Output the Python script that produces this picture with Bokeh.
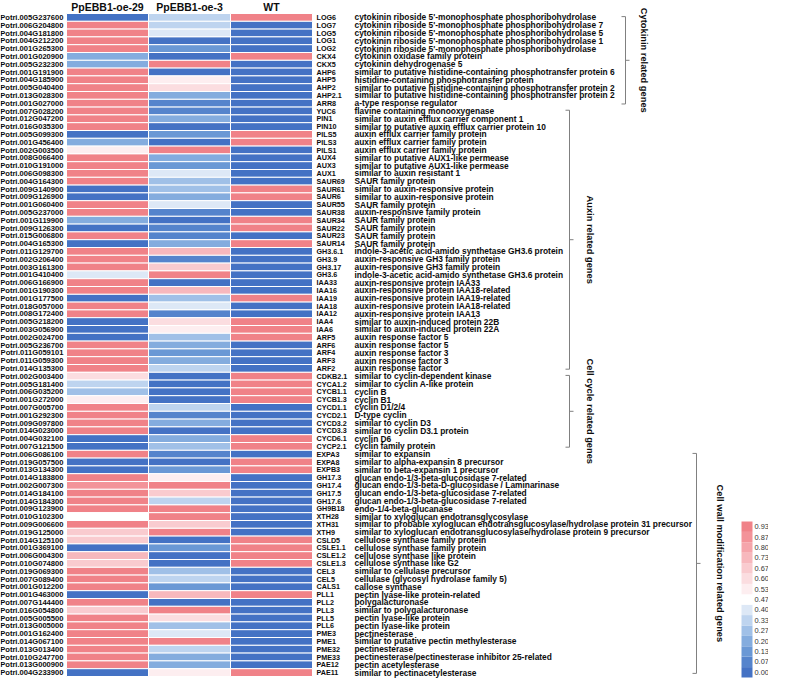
import math
from bokeh.plotting import figure
from bokeh.models import ColumnDataSource, Range1d, LinearColorMapper
from bokeh.transform import transform
from bokeh.core.properties import value
from bokeh.embed import file_html
from bokeh.resources import INLINE

# ---------------- data ----------------
samples = ["PpEBB1-oe-29", "PpEBB1-oe-3", "WT"]

gene_ids = [
    "Potri.005G237600", "Potri.006G204800", "Potri.004G181800", "Potri.004G212200",
    "Potri.001G265300", "Potri.001G020900", "Potri.005G232300", "Potri.001G191900",
    "Potri.004G185900", "Potri.005G040400", "Potri.013G028300", "Potri.001G027000",
    "Potri.007G028200", "Potri.012G047200", "Potri.016G035300", "Potri.005G099300",
    "Potri.001G456400", "Potri.002G003500", "Potri.008G066400", "Potri.010G191000",
    "Potri.006G098300", "Potri.004G164300", "Potri.009G140900", "Potri.009G126900",
    "Potri.001G060400", "Potri.005G237000", "Potri.001G119900", "Potri.009G126300",
    "Potri.015G006800", "Potri.004G165300", "Potri.011G129700", "Potri.002G206400",
    "Potri.003G161300", "Potri.001G410400", "Potri.006G166900", "Potri.001G190300",
    "Potri.001G177500", "Potri.018G057000", "Potri.008G172400", "Potri.005G218200",
    "Potri.003G056900", "Potri.002G024700", "Potri.005G236700", "Potri.011G059101",
    "Potri.011G059300", "Potri.014G135300", "Potri.002G003400", "Potri.005G181400",
    "Potri.006G035200", "Potri.001G272000", "Potri.007G005700", "Potri.001G292300",
    "Potri.009G097800", "Potri.014G023000", "Potri.004G032100", "Potri.007G121500",
    "Potri.006G086100", "Potri.019G057500", "Potri.013G134300", "Potri.014G183800",
    "Potri.002G007300", "Potri.014G184100", "Potri.014G184300", "Potri.009G123900",
    "Potri.010G102300", "Potri.009G006600", "Potri.019G125000", "Potri.014G125100",
    "Potri.001G369100", "Potri.006G004300", "Potri.010G074800", "Potri.019G069300",
    "Potri.007G089400", "Potri.001G012200", "Potri.001G463000", "Potri.007G144400",
    "Potri.016G054800", "Potri.005G005500", "Potri.013G005000", "Potri.001G162400",
    "Potri.014G067100", "Potri.013G013400", "Potri.010G247700", "Potri.013G000900",
    "Potri.004G233900",
]

gene_names = [
    "LOG6", "LOG7", "LOG5", "LOG1", "LOG2", "CKX4", "CKX5", "AHP6", "AHP5", "AHP2",
    "AHP2.1", "ARR8", "YUC6", "PIN1", "PIN10", "PILS5", "PILS3", "PILS1", "AUX4", "AUX3",
    "AUX1", "SAUR69", "SAUR61", "SAUR6", "SAUR55", "SAUR38", "SAUR34", "SAUR22", "SAUR23",
    "SAUR14", "GH3.6.1", "GH3.9", "GH3.17", "GH3.6", "IAA33", "IAA16", "IAA19", "IAA18",
    "IAA12", "IAA4", "IAA6", "ARF5", "ARF6", "ARF4", "ARF3", "ARF2", "CDKB2.1", "CYCA1.2",
    "CYCB1.1", "CYCB1.3", "CYCD1.1", "CYCD2.1", "CYCD3.2", "CYCD3.3", "CYCD6.1", "CYCP2.1",
    "EXPA3", "EXPA8", "EXPB3", "GH17.3", "GH17.4", "GH17.5", "GH17.6", "GH9B18", "XTH28",
    "XTH31", "XTH9", "CSLD5", "CSLE1.1", "CSLE1.2", "CSLE1.3", "CEL3", "CEL5", "CALS1",
    "PLL1", "PLL2", "PLL3", "PLL5", "PLL6", "PME3", "PME1", "PME32", "PME33", "PAE12", "PAE11",
]

descriptions = [
    "cytokinin riboside 5'-monophosphate phosphoribohydrolase",
    "cytokinin riboside 5'-monophosphate phosphoribohydrolase 7",
    "cytokinin riboside 5'-monophosphate phosphoribohydrolase 5",
    "cytokinin riboside 5'-monophosphate phosphoribohydrolase 1",
    "cytokinin riboside 5'-monophosphate phosphoribohydrolase",
    "cytokinin oxidase family protein",
    "cytokinin dehydrogenase 5",
    "similar to putative histidine-containing phosphotransfer protein 6",
    "histidine-containing phosphotransfer protein",
    "similar to putative histidine-containing phosphotransfer protein 2",
    "similar to putative histidine-containing phosphotransfer protein 2",
    "a-type response regulator",
    "flavine containing monooxygenase",
    "similar to auxin efflux carrier component 1",
    "similar to putative auxin efflux carrier protein 10",
    "auxin efflux carrier family protein",
    "auxin efflux carrier family protein",
    "auxin efflux carrier family protein",
    "similar to putative AUX1-like permease",
    "similar to putative AUX1-like permease",
    "similar to auxin resistant 1",
    "SAUR family protein",
    "similar to auxin-responsive protein",
    "similar to auxin-responsive protein",
    "SAUR family protein",
    "auxin-responsive family protein",
    "SAUR family protein",
    "SAUR family protein",
    "SAUR family protein",
    "SAUR family protein",
    "indole-3-acetic acid-amido synthetase GH3.6 protein",
    "auxin-responsive GH3 family protein",
    "auxin-responsive GH3 family protein",
    "indole-3-acetic acid-amido synthetase GH3.6 protein",
    "auxin-responsive protein IAA33",
    "auxin-responsive protein IAA18-related",
    "auxin-responsive protein IAA19-related",
    "auxin-responsive protein IAA18-related",
    "auxin-responsive protein IAA13",
    "similar to auxin-induced protein 22B",
    "similar to auxin-induced protein 22A",
    "auxin response factor 5",
    "auxin response factor 5",
    "auxin response factor 3",
    "auxin response factor 3",
    "auxin response factor",
    "similar to cyclin-dependent kinase",
    "similar to cyclin A-like protein",
    "cyclin B",
    "cyclin B1",
    "cyclin D1/2/4",
    "D-type cyclin",
    "similar to cyclin D3",
    "similar to cyclin D3.1 protein",
    "cyclin D6",
    "cyclin family protein",
    "similar to expansin",
    "similar to alpha-expansin 8 precursor",
    "similar to beta-expansin 1 precursor",
    "glucan endo-1/3-beta-glucosidase 7-related",
    "glucan endo-1/3-beta-D-glucosidase / Laminarinase",
    "glucan endo-1/3-beta-glucosidase 7-related",
    "glucan endo-1/3-beta-glucosidase 7-related",
    "endo-1/4-beta-glucanase",
    "similar to xyloglucan endotransglycosylase",
    "similar to probable xyloglucan endotransglucosylase/hydrolase protein 31 precursor",
    "similar to xyloglucan endotransglucosylase/hydrolase protein 9 precursor",
    "cellulose synthase family protein",
    "cellulose synthase family protein",
    "cellulose synthase like protein",
    "cellulose synthase like G2",
    "similar to cellulase precursor",
    "cellulase (glycosyl hydrolase family 5)",
    "callose synthase",
    "pectin lyase-like protein-related",
    "polygalacturonase",
    "similar to polygalacturonase",
    "pectin lyase-like protein",
    "pectin lyase-like protein",
    "pectinesterase",
    "similar to putative pectin methylesterase",
    "pectinesterase",
    "pectinesterase/pectinesterase inhibitor 25-related",
    "pectin acetylesterase",
    "similar to pectinacetylesterase",
]

oe29 = [0.0, 1, 1, 1, 1, 0.23, 0.23, 1, 1, 1, 1, 1,
        1, 1, 1, 0.0, 0.23, 0.57, 1, 1, 1, 1, 0.0, 0.0, 1, 1, 0.23, 0.0, 1, 0.0,
        1, 1, 1, 0.43, 1, 1, 0.0, 1, 1, 0.0, 0.0, 0.0, 1, 1, 1, 1,
        0.63, 0.37, 0.33, 0.55, 1, 1, 1, 1, 0.0, 0.0,
        1, 0.0, 0.0, 1, 0.9, 1, 1, 1, 0.5, 1, 0.7, 0.7, 0.0, 0.77, 0.7, 1, 1, 1,
        0.0, 1, 0.7, 1, 1, 1, 1, 1, 1, 1, 0.0]

oe3 = [0.37, 0.37, 0.43, 0.02, 0.17, 0.02, 1, 0.02, 0.57, 0.6, 0.23, 0.1,
       0.1, 0.23, 0.03, 0.17, 0.03, 1, 0.23, 0.17, 0.43, 0.3, 0.33, 0.23, 0.43, 0.1, 0.05, 0.07, 0.1, 0.23,
       0.77, 0.1, 0.7, 1, 0.03, 0.77, 0.3, 0.43, 0.1, 0.6, 0.55, 0.3, 0.23, 0.17, 0.23, 0.37,
       0.0, 0.0, 0.0, 0.0, 0.37, 0.1, 0.23, 0.03, 0.23, 0.33,
       0.1, 0.05, 0.17, 0.55, 1, 0.7, 0.37, 1, 1, 0.7, 1, 0.0, 0.17, 0.0, 0.0, 0.33, 0.37, 0.17,
       0.77, 0.03, 1, 0.6, 0.33, 0.43, 1, 0.37, 0.23, 0.23, 0.55]

wt = [1, 0.0, 0.0, 0.0, 0.0, 1, 0.0, 0.0, 0.0, 0.0, 0.0, 0.0,
      0.0, 0.0, 0.0, 1, 1, 0.0, 0.0, 0.0, 0.0, 0.0, 1, 1, 0.0, 0.0, 1, 1, 0.0, 1,
      0.0, 0.0, 0.0, 0.0, 0.0, 0.0, 1, 0.0, 0.0, 1, 1, 1, 0.0, 0.0, 0.0, 0.0,
      1, 1, 1, 1, 0.0, 0.0, 0.0, 0.0, 1, 1,
      0.0, 1, 1, 0.0, 0.0, 0.0, 0.0, 0.0, 0.0, 0.0, 0.0, 1, 1, 1, 1, 0.0, 0.0, 0.0,
      1, 0.0, 0.0, 0.0, 0.0, 0.0, 0.0, 0.0, 0.0, 0.0, 1]

group_names = ["Cytokinin related genes", "Auxin related genes",
               "Cell cycle related genes", "Cell wall modification related genes"]
group_first = [0, 12, 46, 56]
group_last = [11, 45, 55, 84]

palette = ["#4472c4", "#5584cc", "#6a98d5", "#84acde", "#a0c0e7", "#bed4ef", "#dde8f6",
           "#ffffff",
           "#fdeef0", "#fbdde0", "#f9cbcf", "#f7b8bd", "#f5a5ab", "#f39399", "#f08288"]
colorbar_labels = ["0.00", "0.07", "0.13", "0.20", "0.27", "0.33", "0.40", "0.47",
                   "0.53", "0.60", "0.67", "0.73", "0.80", "0.87", "0.93"]

# ---------------- layout (pixels) ----------------
W, H = 768, 678
PAGE_L, PAGE_T = 8, 8
X0, PX = 74, 82.0      # heatmap left edge, px per column
TOP, ROW = 21, 7.8     # first row top, px per row
n = len(gene_ids)

def px2x(px):
    return (px - X0) / PX

def py2y(py):
    return (n - 0.5) - (py - TOP) / ROW

p = figure(width=W, height=H, output_backend="svg", toolbar_location=None,
           x_range=Range1d(px2x(PAGE_L), px2x(PAGE_L + W)),
           y_range=Range1d(py2y(PAGE_T + H), py2y(PAGE_T)),
           x_axis_location=None, y_axis_location=None, min_border=0)
p.grid.visible = False
p.outline_line_color = None
p.background_fill_color = "white"

FONT = value("Liberation Sans")
TXT = "#0d0d0d"

# heatmap cells
cx, cy, cv = [], [], []
for j, col in enumerate([oe29, oe3, wt]):
    for i, v in enumerate(col):
        cx.append(j + 0.5)
        cy.append(n - 1 - i)
        cv.append(v)
mapper = LinearColorMapper(palette=palette, low=0, high=1)
src = ColumnDataSource(dict(x=cx, y=cy, v=cv))
p.rect(x="x", y="y", width=1, height=1, source=src,
       fill_color=transform("v", mapper), line_color="white", line_width=1)

rows_y = [n - 1 - i for i in range(n)]

# column headers
p.text(x=[j + 0.5 for j in range(len(samples))], y=[py2y(14.5)] * len(samples), text=samples,
       text_align="center", text_baseline="middle", text_font=FONT,
       text_font_style="bold", text_font_size="10.5px", text_color=TXT)

# gene ids (left)
p.text(x=[px2x(71)] * n, y=rows_y, text=gene_ids, text_align="right",
       text_baseline="middle", text_font=FONT, text_font_style="bold",
       text_font_size="7.6px", text_color=TXT)

# gene names
p.text(x=[px2x(324)] * n, y=rows_y, text=gene_names, text_align="left",
       text_baseline="middle", text_font=FONT, text_font_style="bold",
       text_font_size="7.2px", text_color=TXT)

# descriptions
p.text(x=[px2x(362)] * n, y=rows_y, text=descriptions, text_align="left",
       text_baseline="middle", text_font=FONT, text_font_style="bold",
       text_font_size="8.4px", text_color=TXT)

# brackets
bracket_px = [633, 577, 577, 704]
label_px = [651, 597, 597, 727]
d = 4 / PX
xs, ys, lx, ly = [], [], [], []
for g in range(len(group_names)):
    yt = (n - 1 - group_first[g]) + 0.5 - 0.4
    yb = (n - 1 - group_last[g]) - 0.5 + 0.4
    ym = (yt + yb) / 2
    bx = px2x(bracket_px[g])
    xs.append([bx - d, bx, bx, bx - d]); ys.append([yt, yt, yb, yb])
    xs.append([bx, bx + d]); ys.append([ym, ym])
    lx.append(px2x(label_px[g])); ly.append(ym)
p.multi_line(xs=xs, ys=ys, line_color="#808080", line_width=1)
p.text(x=lx, y=ly, text=group_names, angle=-math.pi / 2, text_align="center",
       text_baseline="middle", text_font=FONT, text_font_style="bold",
       text_font_size="9.3px", text_color=TXT)

# colour bar
bin_h = 10.4
cb_bottom = 685
cb_y = [py2y(cb_bottom - (k + 0.5) * bin_h) for k in range(len(palette))]
p.rect(x=[px2x(754.5)] * len(palette), y=cb_y, width=11 / PX, height=bin_h / ROW,
       fill_color=palette, line_color=None)
p.text(x=[px2x(762)] * len(colorbar_labels), y=cb_y, text=colorbar_labels,
       text_align="left", text_baseline="middle", text_font=FONT,
       text_font_size="7.4px", text_color="#333333")

open("out.html", "w").write(file_html(p, INLINE, "heatmap"))
